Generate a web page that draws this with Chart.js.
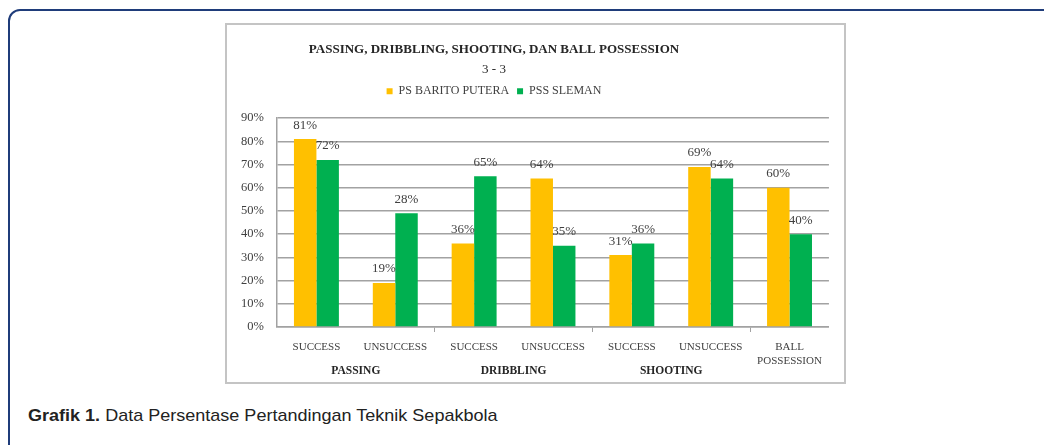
<!DOCTYPE html>
<html>
<head>
<meta charset="utf-8">
<script src="https://cdn.jsdelivr.net/npm/chart.js@4/dist/chart.umd.min.js"></script>
<style>
  body { margin: 0; background: #fff; width: 1044px; height: 445px; overflow: hidden; position: relative; }
  .frame { position: absolute; left: 8px; top: 9px; width: 1100px; height: 500px; border: 2.5px solid #1f3c7a; border-radius: 12px; }
  .chartbox { position: absolute; left: 225px; top: 23px; width: 621px; height: 361px; box-sizing: border-box; border: 2px solid #c4c4c4; }
  .chartwrap { position: absolute; left: 158px; top: 23px; width: 672px; height: 361px; }
  .caption { position: absolute; left: 28px; top: 406px; font-family: "Liberation Sans", Arial, sans-serif; font-size: 17px; color: #222; white-space: nowrap; transform: scaleX(1.06); transform-origin: left center; }
</style>
</head>
<body>
<div class="frame"></div>
<div class="chartbox"></div>
<div class="chartwrap"><canvas id="chart" width="672" height="361"></canvas></div>
<div class="caption"><b>Grafik 1.</b> Data Persentase Pertandingan Teknik Sepakbola</div>
<script>
const categories = ["SUCCESS", "UNSUCCESS", "SUCCESS", "UNSUCCESS", "SUCCESS", "UNSUCCESS", ["BALL", "POSSESSION"]];
const groupLabels = ["PASSING", "DRIBBLING", "SHOOTING"];
const baritoValues = [81, 19, 36, 64, 31, 69, 60];
const baritoLabels = ["81%", "19%", "36%", "64%", "31%", "69%", "60%"];
const slemanValues = [72, 49, 65, 35, 36, 64, 40];
const slemanLabels = ["72%", "28%", "65%", "35%", "36%", "64%", "40%"]; // as printed in the source
const yTicks = [0, 10, 20, 30, 40, 50, 60, 70, 80, 90];

const serif = "'Liberation Serif', 'Times New Roman', serif";
const gridColor = "#a2a2a2";

// percentage text above each bar
const barLabels = {
  id: "barLabels",
  afterDatasetsDraw(chart) {
    const ctx = chart.ctx;
    const texts = [baritoLabels, slemanLabels];
    ctx.save();
    ctx.font = "13px " + serif;
    ctx.fillStyle = "#404040";
    ctx.textAlign = "center";
    ctx.textBaseline = "middle";
    chart.data.datasets.forEach((ds, i) => {
      chart.getDatasetMeta(i).data.forEach((bar, j) => {
        ctx.fillText(texts[i][j], bar.x, bar.y - 14);
      });
    });
    ctx.restore();
  },
};

// second row of the x axis: PASSING / DRIBBLING / SHOOTING
const groupRow = {
  id: "groupRow",
  afterDraw(chart) {
    const ctx = chart.ctx;
    const x = chart.scales.x;
    ctx.save();
    ctx.font = "bold 11.5px " + serif;
    ctx.fillStyle = "#262626";
    ctx.textAlign = "center";
    ctx.textBaseline = "middle";
    groupLabels.forEach((g, i) => {
      const cx = (x.getPixelForValue(i * 2) + x.getPixelForValue(i * 2 + 1)) / 2;
      ctx.fillText(g, cx, chart.chartArea.bottom + 44);
    });
    ctx.restore();
  },
};

new Chart(document.getElementById("chart"), {
  type: "bar",
  data: {
    labels: categories,
    datasets: [
      {
        label: "PS BARITO PUTERA",
        data: baritoValues,
        backgroundColor: "#ffc000",
        categoryPercentage: 0.57,
        barPercentage: 1.0,
      },
      {
        label: "PSS SLEMAN",
        data: slemanValues,
        backgroundColor: "#00b050",
        categoryPercentage: 0.57,
        barPercentage: 1.0,
      },
    ],
  },
  options: {
    responsive: false,
    animation: false,
    layout: { padding: 0 },
    plugins: {
      title: {
        display: true,
        text: "PASSING, DRIBBLING, SHOOTING, DAN BALL POSSESSION",
        color: "#262626",
        font: { family: serif, size: 13, weight: "bold" },
        padding: { top: 19, bottom: 0 },
      },
      subtitle: {
        display: true,
        text: "3 - 3",
        color: "#262626",
        font: { family: serif, size: 13 },
        padding: { top: 4, bottom: 0 },
      },
      legend: {
        labels: {
          boxWidth: 6,
          boxHeight: 6,
          padding: 8,
          color: "#404040",
          font: { family: serif, size: 12 },
        },
      },
      tooltip: { enabled: false },
    },
    scales: {
      x: {
        grid: {
          drawOnChartArea: false,
          tickLength: 5,
          color: (c) => (c.index > 0 && c.index % 2 === 0 ? gridColor : "transparent"),
        },
        border: { display: true, color: gridColor, width: 1.5 },
        ticks: {
          padding: 8,
          color: "#404040",
          font: { family: serif, size: 11, lineHeight: 1.3 },
          maxRotation: 0,
          autoSkip: false,
        },
        afterFit: (s) => { s.height = 57; },
      },
      // empty band between legend and plot
      gap: {
        type: "category",
        position: "top",
        grid: { display: false },
        border: { display: false },
        ticks: { display: false },
        afterFit: (s) => { s.height = 11; },
      },
      y: {
        min: 0,
        max: 90,
        afterBuildTicks: (s) => { s.ticks = yTicks.map((v) => ({ value: v })); },
        ticks: {
          padding: 13,
          color: "#404040",
          font: { family: serif, size: 12.5 },
          callback: (v) => v + "%",
        },
        grid: { color: gridColor, lineWidth: 1.5, drawTicks: false },
        border: { display: true, color: gridColor, width: 1.5 },
        afterFit: (s) => { s.width = 119; },
      },
    },
  },
  plugins: [barLabels, groupRow],
});
</script>
</body>
</html>
